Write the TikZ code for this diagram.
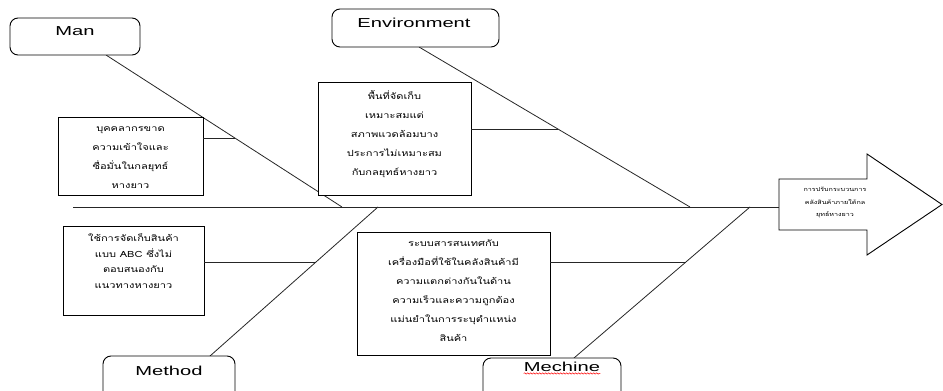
\documentclass[tikz,border=0pt]{standalone}
\usepackage{fontspec}
\setmainfont{Liberation Sans}
\newfontfamily\lblfont[FakeStretch=1.55]{Liberation Sans}
\newfontfamily\thaifont[Script=Thai,FakeStretch=1.3]{Loma}
\usetikzlibrary{decorations.pathmorphing}
\begin{document}
\begin{tikzpicture}[x=1pt,y=-1pt,
  bone/.style={draw=black!85, line width=0.8pt},
  catbox/.style={draw, rounded corners=8pt, fill=white, line width=0.9pt, inner sep=0pt},
  causebox/.style={draw, fill=white, line width=0.9pt, inner sep=0pt},
  lbl/.style={font=\lblfont\fontsize{13}{15}\selectfont, inner sep=0pt},
  thai/.style={font=\thaifont\fontsize{8.5}{19}\selectfont, align=center, inner sep=0pt},
  thaism/.style={font=\thaifont\fontsize{5.5}{12.5}\selectfont, align=center, inner sep=0pt},
]
\useasboundingbox (0,0) rectangle (943,391);
\clip (0,0) rectangle (943,391);

% goal arrow
\draw[line width=0.9pt, fill=white] (779,179) -- (867,179) -- (867,154) -- (942,204.5) -- (867,255) -- (867,230) -- (779,230) -- cycle;
\node[thaism, minimum width=88pt, minimum height=51pt] (goal) at (823,204.5) {};
\node[thaism] (goaltxt) at (835,203) {การปรับกระบวนการ\\คลังสินค้าภายใต้กล\\ยุทธ์หางยาว};

% spine
\coordinate (sL) at (73,207);
\draw[bone] (sL) -- (sL -| goal.west);

% bone end points
\coordinate (manA) at (106,55);   \coordinate (manB) at (342,207);
\coordinate (envA) at (419,47);   \coordinate (envB) at (690,207);
\coordinate (metA) at (210,356);  \coordinate (metB) at (378,207);
\coordinate (mecA) at (574,358);  \coordinate (mecB) at (750,207);
\draw[bone] (manA) -- (manB);
\draw[bone] (envA) -- (envB);
\draw[bone] (metA) -- (metB);
\draw[bone] (mecA) -- (mecB);

% junctions
\coordinate (j1) at (235,138);
\coordinate (j2) at (558,129);
\coordinate (j3) at (316,262);
\coordinate (j4) at (686,262);

% category boxes
\node[catbox, minimum width=130pt, minimum height=37pt] (man) at (75,36.5) {};
\node[lbl] (mantxt) at (75,31.5) {Man};
\node[catbox, minimum width=167pt, minimum height=38pt] (env) at (415.5,28) {};
\node[lbl] (envtxt) at (414,23) {Environment};
\node[catbox, minimum width=132pt, minimum height=44pt] (met) at (169,378) {};
\node[lbl] (mettxt) at (169,371) {Method};
\node[catbox, minimum width=138pt, minimum height=42pt] (mec) at (552,379) {};
\node[lbl] (mectxt) at (562,366.5) {Mechine};
\draw[red, line width=0.5pt, decorate, decoration={snake, amplitude=0.7pt, segment length=3pt}]
  ([yshift=-2pt]mectxt.south west) -- ([yshift=-2pt]mectxt.south east);

% cause boxes
\node[causebox, minimum width=145pt, minimum height=78pt] (c1) at (130.5,156) {};
\node[thai] (c1txt) at (130.5,158) {บุคคลากรขาด\\ความเข้าใจและ\\ซื่อมั่นในกลยุทธ์\\หางยาว};
\node[causebox, minimum width=153pt, minimum height=113pt] (c2) at (394.5,138.5) {};
\node[thai] (c2txt) at (394.5,134) {พื้นที่จัดเก็บ\\เหมาะสมแต่\\สภาพแวดล้อมบาง\\ประการไม่เหมาะสม\\กับกลยุทธ์หางยาว};
\node[causebox, minimum width=141pt, minimum height=89pt] (c3) at (133.5,270.5) {};
\node[thai, font=\thaifont\fontsize{8.5}{15.5}\selectfont] (c3txt) at (133.5,261) {ใช้การจัดเก็บสินค้า\\แบบ ABC ซึ่งไม่\\ตอบสนองกับ\\แนวทางหางยาว};
\node[causebox, minimum width=193pt, minimum height=123pt] (c4) at (453.5,293.5) {};
\node[thai] (c4txt) at (453.5,291) {ระบบสารสนเทศกับ\\เครื่องมือที่ใช้ในคลังสินค้ามี\\ความแตกต่างกันในด้าน\\ความเร็วและความถูกต้อง\\แม่นยำในการระบุตำแหน่ง\\สินค้า};

% branches
\draw[bone] (j1 -| c1.east) -- (j1);
\draw[bone] (j2 -| c2.east) -- (j2);
\draw[bone] (j3 -| c3.east) -- (j3);
\draw[bone] (j4 -| c4.east) -- (j4);
\end{tikzpicture}
\end{document}
